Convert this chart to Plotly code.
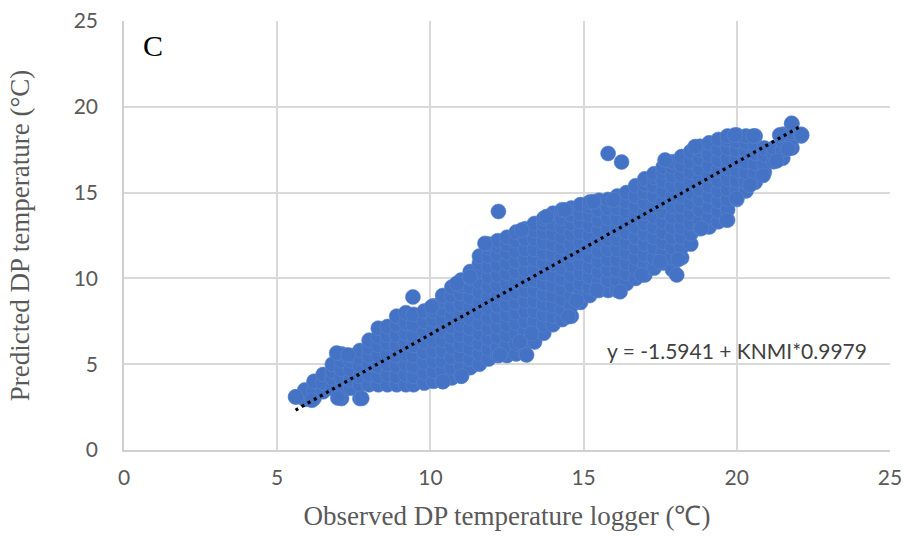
import plotly.graph_objects as go

# ---- data ----
column_x = [5.6, 5.9, 6.2, 6.5, 6.8, 7.1, 7.4, 7.7, 8.0, 8.3, 8.6, 8.9, 9.2, 9.45, 9.8,
            10.1, 10.4, 10.7, 11.0, 11.3, 11.6, 11.9, 12.2, 12.5, 12.8, 13.1, 13.4, 13.7,
            14.0, 14.3, 14.6, 14.9, 15.2, 15.5, 15.8, 16.1, 16.4, 16.7, 17.0, 17.3, 17.6,
            17.9, 18.2, 18.5, 18.8, 19.1, 19.4, 19.7, 20.0, 20.3, 20.6, 20.9, 21.2, 21.5,
            21.8, 22.1]
column_y = [
    [3.1],
    [2.95, 3.5],
    [3.0, 3.5, 4.0],
    [3.4, 3.9, 4.4],
    [3.6, 4.2, 4.6, 5.0],
    [3.0, 3.6, 4.2, 4.7, 5.2, 5.6],
    [3.6, 4.1, 4.7, 5.2, 5.5],
    [3.0, 3.8, 4.3, 4.9, 5.4, 5.8],
    [3.8, 4.4, 5.0, 5.5, 6.0, 6.4],
    [3.8, 4.3, 4.9, 5.5, 6.1, 6.6, 7.1],
    [3.8, 4.4, 5.0, 5.6, 6.2, 6.7, 7.2],
    [3.8, 4.3, 4.9, 5.5, 6.1, 6.7, 7.3, 7.8],
    [3.8, 4.4, 5.0, 5.6, 6.2, 6.8, 7.4, 8.0],
    [3.8, 4.3, 4.9, 5.5, 6.1, 6.7, 7.3, 7.9],
    [3.9, 4.5, 5.1, 5.7, 6.3, 6.9, 7.5, 8.1],
    [4.0, 4.6, 5.2, 5.8, 6.4, 7.0, 7.6, 8.1, 8.4],
    [4.0, 4.6, 5.2, 5.8, 6.4, 7.0, 7.6, 8.2, 8.7, 9.0],
    [4.2, 4.8, 5.4, 6.0, 6.6, 7.2, 7.8, 8.4, 9.0, 9.5],
    [4.3, 4.9, 5.5, 6.1, 6.7, 7.3, 7.9, 8.5, 9.1, 9.6, 9.9],
    [4.8, 5.3, 5.9, 6.5, 7.1, 7.7, 8.3, 8.9, 9.5, 10.0, 10.4],
    [5.0, 5.6, 6.2, 6.8, 7.4, 8.0, 8.6, 9.2, 9.8, 10.4, 10.9, 11.3],
    [5.3, 5.9, 6.5, 7.1, 7.7, 8.3, 8.9, 9.5, 10.1, 10.7, 11.3, 11.8, 12.0],
    [5.5, 6.0, 6.6, 7.2, 7.8, 8.4, 9.0, 9.6, 10.2, 10.8, 11.4, 11.9, 12.2],
    [5.5, 6.1, 6.7, 7.3, 7.9, 8.5, 9.1, 9.7, 10.3, 10.9, 11.5, 12.0, 12.4],
    [5.6, 6.2, 6.8, 7.4, 8.0, 8.6, 9.2, 9.8, 10.4, 11.0, 11.6, 12.2, 12.7],
    [5.6, 6.3, 6.9, 7.5, 8.1, 8.7, 9.3, 9.9, 10.5, 11.1, 11.7, 12.3, 12.9],
    [6.3, 6.9, 7.5, 8.1, 8.7, 9.3, 9.9, 10.5, 11.1, 11.7, 12.3, 12.8, 13.2],
    [6.8, 7.3, 7.9, 8.5, 9.1, 9.7, 10.3, 10.9, 11.5, 12.1, 12.7, 13.2, 13.5],
    [7.3, 7.8, 8.4, 9.0, 9.6, 10.2, 10.8, 11.4, 12.0, 12.6, 13.2, 13.8],
    [7.6, 8.2, 8.8, 9.4, 10.0, 10.6, 11.2, 11.8, 12.4, 13.0, 13.5, 14.0],
    [7.8, 8.4, 9.0, 9.6, 10.2, 10.8, 11.4, 12.0, 12.6, 13.2, 13.7, 14.1],
    [8.6, 9.1, 9.7, 10.3, 10.9, 11.5, 12.1, 12.7, 13.3, 13.8, 14.3],
    [9.0, 9.5, 10.1, 10.7, 11.3, 11.9, 12.5, 13.1, 13.7, 14.2, 14.45],
    [9.3, 9.8, 10.4, 11.0, 11.6, 12.2, 12.8, 13.4, 14.0, 14.55],
    [9.3, 9.9, 10.5, 11.1, 11.7, 12.3, 12.9, 13.5, 14.1, 14.6],
    [9.3, 9.9, 10.5, 11.1, 11.7, 12.3, 12.9, 13.5, 14.1, 14.6, 14.8],
    [9.7, 10.3, 10.9, 11.5, 12.1, 12.7, 13.3, 13.9, 14.5, 15.0],
    [10.0, 10.6, 11.2, 11.8, 12.4, 13.0, 13.6, 14.2, 14.8, 15.4],
    [10.2, 10.8, 11.4, 12.0, 12.6, 13.2, 13.8, 14.4, 15.0, 15.5, 15.8],
    [10.6, 11.2, 11.8, 12.4, 13.0, 13.6, 14.2, 14.8, 15.4, 15.9, 16.1],
    [10.9, 11.5, 12.1, 12.7, 13.3, 13.9, 14.5, 15.1, 15.7, 16.2, 16.5],
    [10.5, 11.2, 11.8, 12.4, 13.0, 13.6, 14.2, 14.8, 15.4, 16.0, 16.5, 16.8],
    [11.2, 11.8, 12.4, 13.0, 13.6, 14.2, 14.8, 15.4, 16.0, 16.6, 17.1],
    [12.0, 12.6, 13.2, 13.8, 14.4, 15.0, 15.6, 16.2, 16.8, 17.4],
    [12.9, 13.4, 14.0, 14.6, 15.2, 15.8, 16.4, 17.0, 17.5, 17.7],
    [13.0, 13.6, 14.2, 14.8, 15.4, 16.0, 16.6, 17.2, 17.9],
    [13.3, 13.9, 14.5, 15.1, 15.7, 16.3, 16.9, 17.5, 18.1],
    [13.4, 14.0, 14.6, 15.2, 15.8, 16.4, 17.0, 17.6, 18.1, 18.3],
    [14.6, 15.1, 15.7, 16.3, 16.9, 17.5, 18.0, 18.35],
    [15.1, 15.6, 16.2, 16.8, 17.4, 17.9, 18.3],
    [15.6, 16.1, 16.7, 17.3, 17.8, 18.3],
    [16.2, 16.7, 17.2, 17.6],
    [16.8, 17.3, 17.6],
    [17.0, 17.5, 18.0, 18.4],
    [17.6, 18.1, 18.5, 19.0],
    [18.3, 18.4],
]

# isolated / edge points
outlier_x = [5.61, 6.13, 6.98, 7.76, 6.94, 7.31, 9.43, 10.04, 10.41, 11.02, 12.27, 12.92,
             13.14, 13.3, 10.86, 11.29, 11.78, 12.22, 12.98, 13.79, 14.39, 15.32, 15.97,
             14.5, 14.77, 15.43, 16.19, 16.9, 17.49, 18.04, 15.8, 16.24, 17.66, 18.64,
             19.94, 20.54, 21.79, 22.12, 21.4, 21.67, 21.3, 20.86, 20.43, 19.99, 19.67,
             18.85, 18.09]
outlier_y = [3.09, 2.9, 3.03, 3.01, 5.65, 5.54, 8.92, 8.35, 3.98, 4.31, 5.54, 6.31,
             5.54, 6.8, 9.71, 10.1, 12.04, 13.9, 12.82, 13.6, 13.99, 14.47, 14.57,
             7.77, 8.7, 9.32, 9.22, 10.2, 10.97, 10.2, 17.28, 16.78, 16.9, 17.68,
             18.36, 18.3, 19.04, 18.36, 18.36, 17.55, 16.85, 16.0, 15.44, 14.67, 13.4,
             12.92, 11.1]

trend_x = [5.6, 22.05]
trend_y = [2.33, 18.83]

equation_text = "y = -1.5941 + KNMI*0.9979"
panel_label = "C"
x_title = "Observed DP temperature logger (℃)"
y_title = "Predicted DP temperature (°C)"
tick_vals = [0, 5, 10, 15, 20, 25]

obs_x = []
pred_y = []
for cx, ys in zip(column_x, column_y):
    for yv in ys:
        obs_x.append(cx)
        pred_y.append(yv)
obs_x += outlier_x
pred_y += outlier_y

fig = go.Figure()
fig.add_trace(go.Scatter(
    x=obs_x, y=pred_y, mode="markers",
    marker=dict(size=15, color="#4472C4", line=dict(width=0.6, color="#5b84cc")),
    showlegend=False, hoverinfo="x+y"))
fig.add_trace(go.Scatter(
    x=trend_x, y=trend_y, mode="lines",
    line=dict(color="black", width=3.2, dash="3px,4px"),
    showlegend=False, hoverinfo="skip"))

fig.add_annotation(x=0.55, y=23.6, text=panel_label, showarrow=False, xanchor="left",
                   yanchor="middle", font=dict(family="Liberation Serif", size=30, color="black"))
fig.add_annotation(x=20.0, y=5.77, text=equation_text, showarrow=False, xanchor="center",
                   yanchor="middle", font=dict(family="Lato", size=21, color="#404040"))

axis_common = dict(
    range=[0, 25], tickvals=tick_vals, showgrid=True, gridcolor="#d9d9d9", gridwidth=1.5,
    zeroline=False, showline=True, linecolor="#d0d0d0", linewidth=1.5,
    tickfont=dict(family="Lato", size=21, color="#595959"), ticks="",
    automargin=False, fixedrange=True, ticklabeloverflow="allow",
)
fig.update_xaxes(**axis_common, ticklabelstandoff=8,
                 title=dict(text=x_title, standoff=18,
                            font=dict(family="Liberation Serif", size=27, color="#595959")))
fig.update_yaxes(**axis_common, ticklabelstandoff=20,
                 title=dict(text=y_title, standoff=36,
                            font=dict(family="Liberation Serif", size=27, color="#595959")))

fig.update_layout(
    width=905, height=539,
    margin=dict(l=124, r=15, t=21, b=89),
    paper_bgcolor="white", plot_bgcolor="white",
)
# remove the default 8px page margin so the figure fills the window exactly
fig.write_html("out.html", config={"displayModeBar": False},
               post_script="document.body.style.margin='0';document.body.style.overflow='hidden';")
